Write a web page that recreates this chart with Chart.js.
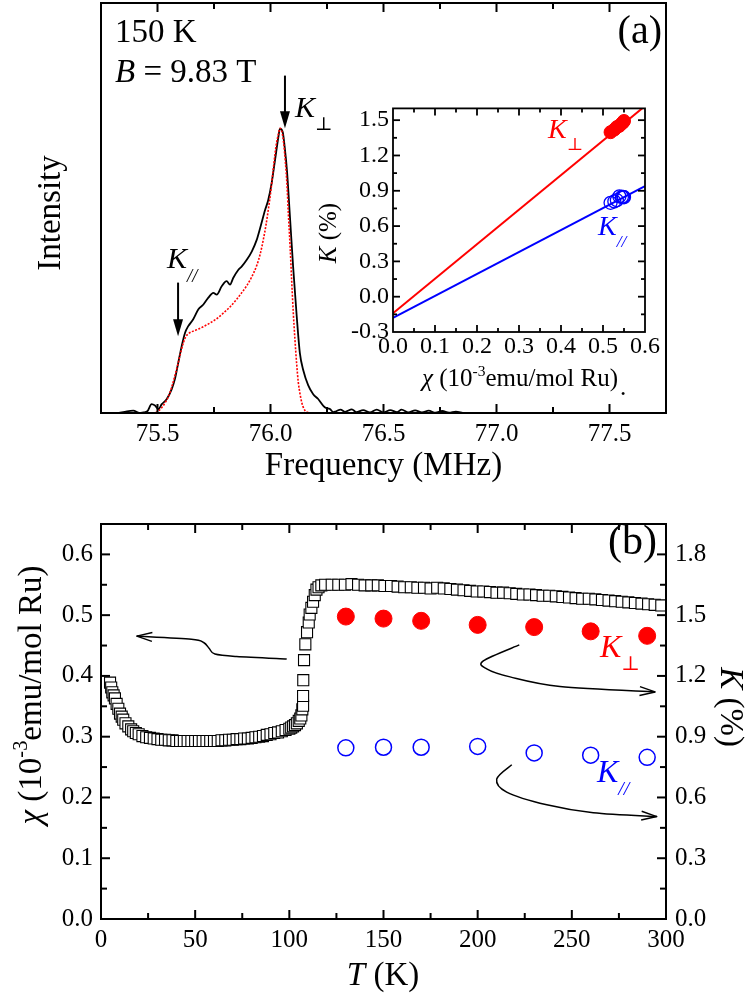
<!DOCTYPE html>
<html><head><meta charset="utf-8">
<script src="https://cdn.jsdelivr.net/npm/chart.js@4.4.1/dist/chart.umd.min.js"></script>
<style>
html,body{margin:0;padding:0;background:#fff;}
#wrap{position:relative;width:747px;height:1005px;overflow:hidden;background:#fff;}
canvas{position:absolute;}
</style></head><body>
<div id="wrap">
<canvas id="ca" width="747" height="500" style="left:0px;top:0px"></canvas>
<canvas id="cc" width="747" height="505" style="left:0px;top:500px"></canvas>
<canvas id="cb" width="360" height="320" style="left:300px;top:90px"></canvas>
</div>
<script>
// ---------- Panel (a): NMR spectrum at 150 K ----------
const freqBlack = [75.33,75.365,75.393,75.42,75.437,75.455,75.474,75.489,75.504,75.519,75.541,75.563,75.577,75.592,75.607,75.622,75.636,75.658,75.681,75.703,75.725,75.747,75.762,75.784,75.806,75.821,75.835,75.858,75.873,75.895,75.917,75.939,75.954,75.976,75.99,76.005,76.02,76.035,76.042,76.054,76.064,76.073,76.086,76.1,76.116,76.13,76.145,76.167,76.189,76.21,76.24,76.263,76.278,76.29,76.31,76.33,76.36,76.38,76.41,76.44,76.47,76.50,76.53,76.56,76.58,76.61,76.64,76.67,76.70,76.73,76.76,76.79,76.82,76.85];
const intBlack  = [0.0,0.006,0.008,0.0,0.002,0.006,0.031,0.026,0.014,0.031,0.049,0.084,0.119,0.177,0.235,0.282,0.305,0.329,0.364,0.381,0.405,0.422,0.416,0.445,0.463,0.451,0.474,0.503,0.515,0.538,0.567,0.608,0.649,0.713,0.748,0.807,0.888,0.970,0.999,0.987,0.925,0.85,0.69,0.515,0.34,0.21,0.15,0.097,0.066,0.05,0.02,0.014,0.003,0.006,0.012,0.004,0.013,0.003,0.010,0.002,0.012,0.002,0.010,0.003,0.012,0.002,0.009,0.002,0.008,0.001,0.007,0.001,0.005,0.0];
const freqFit = [75.40,75.48,75.50,75.52,75.535,75.55,75.565,75.58,75.592,75.605,75.615,75.625,75.636,75.65,75.673,75.70,75.732,75.76,75.79,75.82,75.85,75.875,75.895,75.915,75.94,75.955,75.968,75.98,75.99,76.0,76.012,76.025,76.035,76.042,76.05,76.058,76.066,76.073,76.079,76.087,76.094,76.101,76.108,76.116,76.123,76.13,76.138,76.146,76.153,76.165,76.18,76.50];
const intFit  = [0,0,0.005,0.02,0.038,0.06,0.097,0.14,0.177,0.22,0.248,0.268,0.278,0.285,0.292,0.302,0.316,0.33,0.35,0.372,0.399,0.425,0.447,0.475,0.52,0.56,0.608,0.66,0.713,0.77,0.855,0.94,0.98,1.0,0.99,0.95,0.88,0.80,0.70,0.58,0.46,0.35,0.26,0.17,0.108,0.07,0.038,0.018,0.008,0.002,0,0];
const freqTicks = {min:75.25, max:77.75, step:0.25, labelEvery:0.5};

// ---------- Inset: K vs chi ----------
const chiLine   = [0, 0.6];
const KperpLine = [-0.14, 1.62];
const KparLine  = [-0.18, 0.94];
const chiAtK    = [0.550, 0.548, 0.545, 0.539, 0.533, 0.527, 0.518];

// ---------- Panel (b): chi(T) and K(T) ----------
const Tchi = [4.8,5.4,6.0,6.7,7.4,8.3,9.2,10.1,11.0,11.8,13.0,14.5,16.0,17.1,18.5,20,
  22,24,26,28,30,32,34,36,38,40,42,44,46,48,50,52,54,56,58,60,62,64,66,68,70,72,74,76,78,80,82,84,86,88,90,92,94,96,98,100,
  101,102,103,104,105,105.8,106.4,106.9,107.3,107.3,107.4,107.8,108.5,109.4,110.3,110.8,111.7,112.6,113.5,114.4,115.5,117,
  119,122.5,126,129.5,133,136.5,140,143.5,147,150.5,154,157.5,161,164.5,168,171.5,175,178.5,182,185.5,189,192.5,196,199.5,
  203,206.5,210,213.5,217,220.5,224,227.5,231,234.5,238,241.5,245,248.5,252,255.5,259,262.5,266,269.5,273,276.5,280,283.5,
  287,290.5,294,297.5];
const chi = [0.389,0.381,0.373,0.368,0.363,0.354,0.346,0.338,0.333,0.328,0.322,0.317,0.312,0.309,0.306,0.304,
  0.301,0.299,0.298,0.297,0.296,0.295,0.295,0.294,0.294,0.293,0.293,0.293,0.293,0.293,0.293,0.293,0.293,0.293,0.293,0.293,0.293,0.294,0.294,0.295,0.295,0.296,0.296,0.297,0.297,0.298,0.299,0.300,0.301,0.303,0.304,0.306,0.307,0.309,0.311,0.313,
  0.315,0.317,0.319,0.322,0.326,0.330,0.335,0.345,0.351,0.367,0.393,0.426,0.452,0.472,0.488,0.501,0.512,0.522,0.533,0.542,0.546,0.549,
  0.550,0.550,0.550,0.550,0.551,0.550,0.549,0.549,0.549,0.548,0.548,0.547,0.546,0.546,0.545,0.545,0.544,0.545,0.544,0.543,0.542,0.541,0.540,0.539,
  0.539,0.538,0.537,0.537,0.536,0.535,0.534,0.534,0.533,0.532,0.532,0.531,0.530,0.529,0.528,0.527,0.527,0.526,0.525,0.524,0.523,0.522,0.521,0.520,
  0.519,0.518,0.517,0.516];
const TK    = [130, 150, 170, 200, 230, 260, 290];
const Kperp = [1.493, 1.483, 1.472, 1.452, 1.441, 1.420, 1.398];
const Kpar  = [0.845, 0.848, 0.848, 0.852, 0.820, 0.809, 0.798];

// ---------- helpers ----------
const SERIF = '"Liberation Serif", "DejaVu Serif", "Times New Roman", serif';
const FONTFAM = 'Liberation Serif';
const isMult = (v, s) => Math.abs(v / s - Math.round(v / s)) < 1e-6;
const fmt1 = v => (Math.abs(v) < 1e-9 ? 0 : v).toFixed(1);
const pairs = (xs, ys) => xs.map((x, i) => ({x, y: ys[i]}));

function rich(ctx, parts, x, y, size, opt) {
  opt = opt || {};
  const align = opt.align || 'left', rot = opt.rot || 0, color = opt.color || '#000';
  ctx.save();
  ctx.translate(x, y); ctx.rotate(rot);
  ctx.fillStyle = color; ctx.textBaseline = 'alphabetic'; ctx.textAlign = 'left';
  const items = parts.map(p => {
    const small = p.sub || p.sup;
    const sz = small ? size * (p.scale || 0.62) : size;
    const font = (p.i ? 'italic ' : '') + sz + 'px ' + SERIF;
    ctx.font = font;
    return {t: p.t, font, w: ctx.measureText(p.t).width,
            dy: p.sub ? size * (p.dy || 0.42) : (p.sup ? -size * 0.4 : 0)};
  });
  const W = items.reduce((a, b) => a + b.w, 0);
  let cx = align === 'center' ? -W / 2 : (align === 'right' ? -W : 0);
  for (const it of items) { ctx.font = it.font; ctx.fillText(it.t, cx, it.dy); cx += it.w; }
  ctx.restore();
}

function frameTicks(chart, sides, maj, mnr, lw) {
  const ctx = chart.ctx, a = chart.chartArea;
  ctx.save(); ctx.strokeStyle = '#000'; ctx.lineWidth = lw; ctx.lineCap = 'butt';
  sides.forEach(sd => {
    const sc = chart.scales[sd.s];
    sc.ticks.forEach(t => {
      const p = sc.getPixelForValue(t.value);
      const len = (t.label !== '' && t.label != null) ? maj : mnr;
      ctx.beginPath();
      if (sd.side === 'bottom' || sd.side === 'top') {
        if (p < a.left + 1.5 || p > a.right - 1.5) return;
        const y0 = sd.side === 'bottom' ? a.bottom : a.top;
        const y1 = sd.side === 'bottom' ? a.bottom - len : a.top + len;
        ctx.moveTo(p, y0); ctx.lineTo(p, y1);
      } else {
        if (p < a.top + 1.5 || p > a.bottom - 1.5) return;
        const x0 = sd.side === 'left' ? a.left : a.right;
        const x1 = sd.side === 'left' ? a.left + len : a.right - len;
        ctx.moveTo(x0, p); ctx.lineTo(x1, p);
      }
      ctx.stroke();
    });
  });
  ctx.strokeRect(a.left, a.top, a.right - a.left, a.bottom - a.top);
  ctx.restore();
}

function downArrow(ctx, x, yTop, yTip) {
  ctx.save(); ctx.strokeStyle = '#000'; ctx.fillStyle = '#000'; ctx.lineWidth = 2;
  ctx.beginPath(); ctx.moveTo(x, yTop); ctx.lineTo(x, yTip - 12); ctx.stroke();
  ctx.beginPath(); ctx.moveTo(x - 5, yTip - 17); ctx.lineTo(x + 5, yTip - 17); ctx.lineTo(x, yTip); ctx.closePath(); ctx.fill();
  ctx.restore();
}

function curvedArrow(ctx, pts) {
  const n = pts.length;
  ctx.save(); ctx.strokeStyle = '#000'; ctx.lineWidth = 1.5; ctx.lineJoin = 'round';
  ctx.beginPath(); ctx.moveTo(pts[0][0], pts[0][1]);
  for (let i = 0; i < n - 1; i++) {
    const p0 = pts[Math.max(i - 1, 0)], p1 = pts[i], p2 = pts[i + 1], p3 = pts[Math.min(i + 2, n - 1)];
    ctx.bezierCurveTo(p1[0] + (p2[0] - p0[0]) / 6, p1[1] + (p2[1] - p0[1]) / 6,
                      p2[0] - (p3[0] - p1[0]) / 6, p2[1] - (p3[1] - p1[1]) / 6, p2[0], p2[1]);
  }
  ctx.stroke();
  const e = pts[n - 1], q = pts[n - 2];
  const ang = Math.atan2(e[1] - q[1], e[0] - q[0]);
  const L = 16, w = 0.28;
  ctx.beginPath();
  ctx.moveTo(e[0] - L * Math.cos(ang - w), e[1] - L * Math.sin(ang - w));
  ctx.lineTo(e[0], e[1]);
  ctx.lineTo(e[0] - L * Math.cos(ang + w), e[1] - L * Math.sin(ang + w));
  ctx.stroke();
  ctx.restore();
}

const noGrid = {display: false, drawTicks: false};
const noBorder = {display: false};
const common = {responsive: false, animation: false, devicePixelRatio: 1, events: [],
  plugins: {legend: {display: false}, tooltip: {enabled: false}, title: {display: false}}};

// ---------- Chart (a) ----------
new Chart(document.getElementById('ca'), {
  type: 'line',
  data: {datasets: [
    {data: pairs(freqBlack, intBlack), borderColor: '#000', borderWidth: 1.8, pointRadius: 0,
     cubicInterpolationMode: 'monotone', order: 2},
    {data: pairs(freqFit, intFit), borderColor: '#ff0000', borderWidth: 1.6, borderDash: [2, 1.5],
     pointRadius: 0, cubicInterpolationMode: 'monotone', order: 1}
  ]},
  options: Object.assign({}, common, {
    layout: {padding: {left: 0, top: 3, right: 81, bottom: 0}},
    scales: {
      x: {type: 'linear', min: freqTicks.min, max: freqTicks.max,
          ticks: {stepSize: freqTicks.step, autoSkip: false, maxRotation: 0, minRotation: 0, includeBounds: false,
                  padding: 6, color: '#000', font: {family: FONTFAM, size: 25},
                  callback: v => isMult(v, freqTicks.labelEvery) ? fmt1(v) : ''},
          grid: noGrid, border: noBorder, afterFit: s => { s.height = 87; }},
      y: {type: 'linear', min: 0, max: 1.44, ticks: {display: false}, grid: noGrid, border: noBorder,
          afterFit: s => { s.width = 101; }}
    }
  }),
  plugins: [{id: 'decoA', afterDraw(chart) {
    const ctx = chart.ctx, X = chart.scales.x, Y = chart.scales.y;
    frameTicks(chart, [{s: 'x', side: 'bottom'}, {s: 'x', side: 'top'}], 9, 6, 2);
    rich(ctx, [{t: '150 K'}], 115, 42, 33);
    rich(ctx, [{t: 'B', i: true}, {t: ' = 9.83 T'}], 115, 82, 33);
    rich(ctx, [{t: '(a)'}], 662, 43, 40, {align: 'right'});
    downArrow(ctx, X.getPixelForValue(76.064), Y.getPixelForValue(1.185), Y.getPixelForValue(1.0));
    downArrow(ctx, X.getPixelForValue(75.591), Y.getPixelForValue(0.458), Y.getPixelForValue(0.27));
    rich(ctx, [{t: 'K', i: true}, {t: '\u22A5', sub: true, dy: 0.42}], 295, 117, 30);
    rich(ctx, [{t: 'K', i: true}, {t: '//', sub: true, i: true, dy: 0.45}], 167, 268, 30);
    rich(ctx, [{t: 'Intensity'}], 60, 213, 33, {align: 'center', rot: -Math.PI / 2});
    rich(ctx, [{t: 'Frequency (MHz)'}], 383.5, 475, 33, {align: 'center'});
  }}]
});

// ---------- Inset ----------
new Chart(document.getElementById('cb'), {
  type: 'line',
  data: {datasets: [
    {data: pairs(chiAtK, Kperp), showLine: false, pointRadius: 6.5, pointBackgroundColor: '#ff0000',
     pointBorderColor: '#ff0000', pointBorderWidth: 1, order: 1},
    {data: pairs(chiAtK, Kpar), showLine: false, pointRadius: 6.5, pointBackgroundColor: 'rgba(0,0,0,0)',
     pointBorderColor: '#0000ff', pointBorderWidth: 1.3, order: 2},
    {data: pairs(chiLine, KperpLine), borderColor: '#ff0000', borderWidth: 2, pointRadius: 0, order: 3},
    {data: pairs(chiLine, KparLine), borderColor: '#0000ff', borderWidth: 2, pointRadius: 0, order: 4}
  ]},
  options: Object.assign({}, common, {
    layout: {padding: {left: 0, top: 12, right: 13, bottom: 0}},
    scales: {
      x: {type: 'linear', min: 0, max: 0.6,
          ticks: {stepSize: 0.05, autoSkip: false, maxRotation: 0, minRotation: 0, includeBounds: false,
                  padding: 0, color: '#000', font: {family: FONTFAM, size: 24},
                  callback: v => isMult(v, 0.1) ? fmt1(v) : ''},
          grid: noGrid, border: noBorder, afterFit: s => { s.height = 78; }},
      y: {type: 'linear', min: -0.3, max: 1.6,
          ticks: {stepSize: 0.15, autoSkip: false, includeBounds: false, padding: 4, color: '#000',
                  font: {family: FONTFAM, size: 24},
                  callback: v => isMult(v, 0.3) ? fmt1(v) : ''},
          grid: noGrid, border: noBorder, afterFit: s => { s.width = 93; }}
    }
  }),
  plugins: [{id: 'decoB', afterDraw(chart) {
    const ctx = chart.ctx;
    frameTicks(chart, [{s: 'x', side: 'bottom'}, {s: 'x', side: 'top'}, {s: 'y', side: 'left'}, {s: 'y', side: 'right'}], 7, 4, 1.8);
    rich(ctx, [{t: 'K', i: true}, {t: '\u22A5', sub: true}], 248, 48, 28, {color: '#ff0000'});
    rich(ctx, [{t: 'K', i: true}, {t: '//', sub: true, i: true}], 298, 145, 28, {color: '#0000ff'});
    rich(ctx, [{t: 'K', i: true}, {t: ' (%)'}], 36, 143, 25, {align: 'center', rot: -Math.PI / 2});
    rich(ctx, [{t: '\u03C7', i: true}, {t: ' (10'}, {t: '-3', sup: true}, {t: 'emu/mol Ru)'}], 220, 296, 25, {align: 'center'});
    rich(ctx, [{t: '.'}], 320, 305, 25);
  }}]
});

// ---------- Chart (b) ----------
new Chart(document.getElementById('cc'), {
  type: 'line',
  data: {datasets: [
    {data: pairs(Tchi, chi), yAxisID: 'y', showLine: false, pointStyle: 'rect', pointRadius: 7.8,
     pointBackgroundColor: '#fff', pointBorderColor: '#000', pointBorderWidth: 1.1, order: 3},
    {data: pairs(TK, Kperp), yAxisID: 'yK', showLine: false, pointRadius: 8.5, pointBackgroundColor: '#ff0000',
     pointBorderColor: '#ff0000', pointBorderWidth: 1, order: 1},
    {data: pairs(TK, Kpar), yAxisID: 'yK', showLine: false, pointRadius: 8, pointBackgroundColor: 'rgba(0,0,0,0)',
     pointBorderColor: '#0000ff', pointBorderWidth: 1.5, order: 2}
  ]},
  options: Object.assign({}, common, {
    layout: {padding: {left: 0, top: 7, right: 0, bottom: 0}},
    scales: {
      x: {type: 'linear', min: 0, max: 300,
          ticks: {stepSize: 25, autoSkip: false, maxRotation: 0, minRotation: 0, includeBounds: false,
                  padding: 6, color: '#000', font: {family: FONTFAM, size: 25},
                  callback: v => isMult(v, 50) ? String(Math.round(v)) : ''},
          grid: noGrid, border: noBorder, afterFit: s => { s.height = 86; }},
      y: {type: 'linear', position: 'left', min: 0, max: 0.65,
          ticks: {stepSize: 0.05, autoSkip: false, includeBounds: false, padding: 8, color: '#000',
                  font: {family: FONTFAM, size: 25}, callback: v => isMult(v, 0.1) ? fmt1(v) : ''},
          grid: noGrid, border: noBorder, afterFit: s => { s.width = 101; }},
      yK: {type: 'linear', position: 'right', min: 0, max: 1.95,
          ticks: {stepSize: 0.15, autoSkip: false, includeBounds: false, padding: 9, color: '#000',
                  font: {family: FONTFAM, size: 25}, callback: v => isMult(v, 0.3) ? fmt1(v) : ''},
          grid: noGrid, border: noBorder, afterFit: s => { s.width = 81; }}
    }
  }),
  plugins: [{id: 'decoC', afterDraw(chart) {
    const ctx = chart.ctx, X = chart.scales.x, Y = chart.scales.y;
    const P = arr => arr.map(p => [X.getPixelForValue(p[0]), Y.getPixelForValue(p[1])]);
    frameTicks(chart, [{s: 'x', side: 'bottom'}, {s: 'x', side: 'top'}, {s: 'y', side: 'left'}, {s: 'yK', side: 'right'}], 9, 6, 2);
    curvedArrow(ctx, P([[98.6, 0.428], [72, 0.432], [60.5, 0.436], [57.5, 0.445], [54.5, 0.455], [48, 0.4605], [19, 0.4655]]));
    curvedArrow(ctx, P([[222.1, 0.451], [203.0, 0.4247], [204.8, 0.4116], [217.2, 0.3984], [243.7, 0.3826], [294.2, 0.3737]]));
    curvedArrow(ctx, P([[218.1, 0.2537], [210.1, 0.2301], [215.4, 0.2089], [236.7, 0.1879], [261.4, 0.1748], [295.1, 0.1685]]));
    rich(ctx, [{t: '(b)'}], 657, 54, 42, {align: 'right'});
    rich(ctx, [{t: 'K', i: true}, {t: '\u22A5', sub: true}], 600, 157, 32, {color: '#ff0000'});
    rich(ctx, [{t: 'K', i: true}, {t: '//', sub: true, i: true}], 597, 282, 32, {color: '#0000ff'});
    rich(ctx, [{t: '\u03C7', i: true}, {t: ' (10'}, {t: '-3', sup: true}, {t: 'emu/mol Ru)'}], 40.5, 195, 33,
         {align: 'center', rot: -Math.PI / 2});
    rich(ctx, [{t: 'K', i: true}, {t: ' (%)'}], 721, 207, 33, {align: 'center', rot: Math.PI / 2});
    rich(ctx, [{t: 'T', i: true}, {t: ' (K)'}], 383, 485, 33, {align: 'center'});
  }}]
});
</script>
</body></html>
